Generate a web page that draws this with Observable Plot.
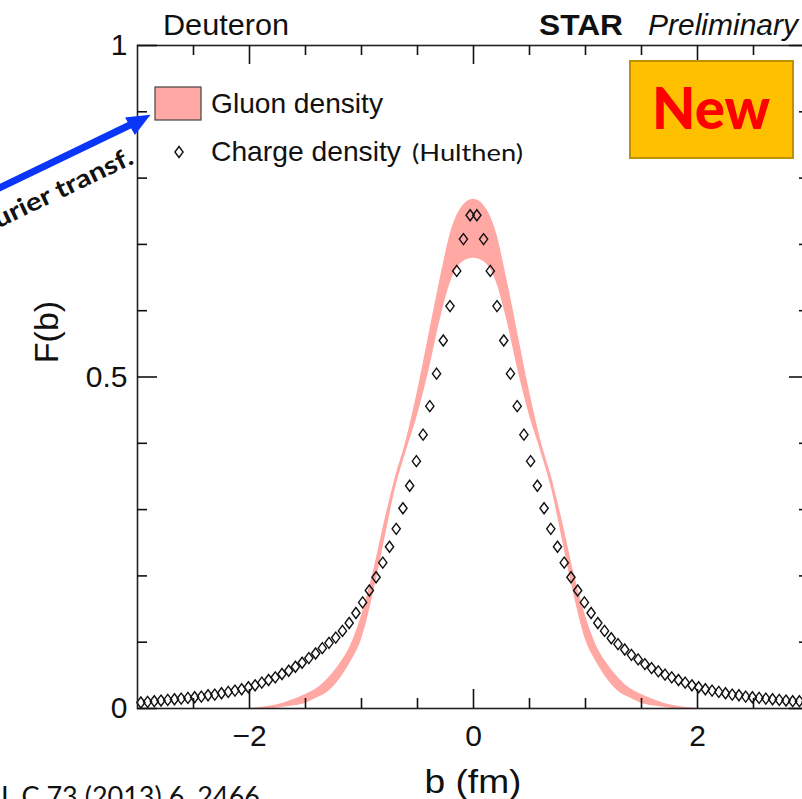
<!DOCTYPE html>
<html>
<head>
<meta charset="utf-8">
<script src="https://cdn.jsdelivr.net/npm/d3@7"></script>
<script src="https://cdn.jsdelivr.net/npm/@observablehq/plot@0.6"></script>
<style>
  html, body { margin: 0; padding: 0; background: white; }
  #wrap { width: 802px; height: 799px; overflow: hidden; position: relative; }
</style>
</head>
<body>
<div id="wrap"></div>
<script>
// ---- Charge density (Hulthen) points ----
const chargeB = [
  -2.97, -2.91, -2.85, -2.79, -2.73, -2.67, -2.61, -2.55, -2.49, -2.43,
  -2.37, -2.31, -2.25, -2.19, -2.13, -2.07, -2.01, -1.95, -1.89, -1.83,
  -1.77, -1.71, -1.65, -1.59, -1.53, -1.47, -1.41, -1.35, -1.29, -1.23,
  -1.17, -1.11, -1.05, -0.99, -0.93, -0.87, -0.81, -0.75, -0.69, -0.63,
  -0.57, -0.51, -0.45, -0.39, -0.33, -0.27, -0.21, -0.15, -0.09, -0.03,
  0.03, 0.09, 0.15, 0.21, 0.27, 0.33, 0.39, 0.45, 0.51, 0.57,
  0.63, 0.69, 0.75, 0.81, 0.87, 0.93, 0.99, 1.05, 1.11, 1.17,
  1.23, 1.29, 1.35, 1.41, 1.47, 1.53, 1.59, 1.65, 1.71, 1.77,
  1.83, 1.89, 1.95, 2.01, 2.07, 2.13, 2.19, 2.25, 2.31, 2.37,
  2.43, 2.49, 2.55, 2.61, 2.67, 2.73, 2.79, 2.85, 2.91, 2.97
];
const chargeF = [
  0.009, 0.010, 0.011, 0.012, 0.013, 0.014, 0.015, 0.016, 0.017, 0.018,
  0.020, 0.021, 0.023, 0.025, 0.027, 0.029, 0.032, 0.035, 0.039, 0.043,
  0.047, 0.052, 0.057, 0.063, 0.069, 0.076, 0.083, 0.091, 0.099, 0.107,
  0.117, 0.129, 0.144, 0.160, 0.178, 0.198, 0.220, 0.244, 0.271, 0.302,
  0.336, 0.373, 0.413, 0.456, 0.505, 0.555, 0.607, 0.660, 0.708, 0.744,
  0.744, 0.708, 0.660, 0.607, 0.555, 0.505, 0.456, 0.413, 0.373, 0.336,
  0.302, 0.271, 0.244, 0.220, 0.198, 0.178, 0.160, 0.144, 0.129, 0.117,
  0.106, 0.097, 0.089, 0.081, 0.074, 0.067, 0.061, 0.056, 0.051, 0.047,
  0.043, 0.039, 0.035, 0.032, 0.029, 0.027, 0.025, 0.023, 0.021, 0.020,
  0.018, 0.017, 0.016, 0.015, 0.014, 0.013, 0.012, 0.011, 0.011, 0.010
];

// ---- Gluon density band ----
const bandB = [
  -2.0, -1.9, -1.8, -1.7, -1.6, -1.5, -1.4, -1.3, -1.2, -1.1, -1.0,
  -0.9, -0.8, -0.7, -0.6, -0.5, -0.4, -0.3, -0.2, -0.1, 0.0,
  0.1, 0.2, 0.3, 0.4, 0.5, 0.6, 0.7, 0.8, 0.9, 1.0,
  1.1, 1.2, 1.3, 1.4, 1.5, 1.6, 1.7, 1.8, 1.9, 2.0
];
const bandLo = [
  0.0, 0.0, 0.0, 0.002, 0.004, 0.008, 0.016, 0.025, 0.043, 0.069, 0.104,
  0.169, 0.249, 0.329, 0.388, 0.442, 0.508, 0.584, 0.645, 0.673, 0.679,
  0.673, 0.645, 0.584, 0.508, 0.442, 0.388, 0.329, 0.249, 0.169, 0.104,
  0.069, 0.043, 0.025, 0.016, 0.008, 0.004, 0.002, 0.0, 0.0, 0.0
];
const bandHi = [
  0.0, 0.0015, 0.004, 0.008, 0.014, 0.021, 0.030, 0.045, 0.066, 0.094, 0.140,
  0.202, 0.278, 0.347, 0.405, 0.478, 0.562, 0.646, 0.720, 0.757, 0.768,
  0.757, 0.720, 0.646, 0.562, 0.478, 0.405, 0.347, 0.278, 0.202, 0.140,
  0.094, 0.066, 0.045, 0.030, 0.021, 0.014, 0.008, 0.004, 0.0015, 0.0
];

// ---- Axis ticks ----
const xMajor = [-2, 0, 2];
const xMinor = [-2.5, -1.5, -1, -0.5, 0.5, 1, 1.5, 2.5];
const yMajor = [0, 0.5, 1];
const yMinor = [0.1, 0.2, 0.3, 0.4, 0.6, 0.7, 0.8, 0.9];

const charge = chargeB.map((b, i) => ({b, f: chargeF[i]}));
const band = bandB.map((b, i) => ({b, lo: bandLo[i], hi: bandHi[i]}));

const diamond = {
  draw(ctx, size) {
    const h = Math.sqrt(size / Math.PI);
    const w = h * 0.75;
    ctx.moveTo(0, -h); ctx.lineTo(w, 0); ctx.lineTo(0, h); ctx.lineTo(-w, 0); ctx.closePath();
  }
};

const W = 812, H = 799, mL = 137, mR = 3, mT = 45, mB = 91;
const plotW = W - mL - mR, plotH = H - mT - mB;
const tk = {stroke: "#111", strokeWidth: 1.6};
const font = "'Liberation Sans', Arial, Helvetica, sans-serif";

const chart = Plot.plot({
  width: W, height: H,
  marginLeft: mL, marginRight: mR, marginTop: mT, marginBottom: mB,
  style: {maxWidth: "none", fontFamily: font, background: "white", color: "#111"},
  x: {domain: [-3, 3], label: null},
  y: {domain: [0, 1], label: null},
  marks: [
    Plot.areaY(band, {x: "b", y1: "lo", y2: "hi", fill: "#FFA8A4", curve: "monotone-x"}),
    Plot.dot(charge, {x: "b", y: "f", symbol: diamond, r: 5.5, stroke: "#111", strokeWidth: 1.4, fill: "none"}),
    Plot.frame({stroke: "#222", strokeWidth: 1.6}),
    // inward ticks on all four sides
    Plot.ruleX(xMajor, {...tk, insetTop: plotH - 19}),
    Plot.ruleX(xMinor, {...tk, insetTop: plotH - 10}),
    Plot.ruleX(xMajor, {...tk, insetBottom: plotH - 19}),
    Plot.ruleX(xMinor, {...tk, insetBottom: plotH - 10}),
    Plot.ruleY(yMajor, {...tk, insetRight: plotW - 20}),
    Plot.ruleY(yMinor, {...tk, insetRight: plotW - 10}),
    Plot.ruleY(yMajor, {...tk, insetLeft: plotW - 20}),
    Plot.ruleY(yMinor, {...tk, insetLeft: plotW - 10}),
    // tick labels
    Plot.axisX(xMajor, {anchor: "bottom", tickSize: 0, tickPadding: 16, fontSize: 30, label: null, fill: "#111"}),
    Plot.axisY(yMajor, {anchor: "left", tickSize: 0, tickPadding: 10, fontSize: 30, label: null, fill: "#111",
      tickFormat: d => String(d)})
  ]
});

document.getElementById("wrap").appendChild(chart);

// ---- Annotations ----
const svg = d3.select(chart);
const sx = chart.scale("x");
const g = svg.append("g");

function txt(x, y, s, opts = {}) {
  const t = g.append("text").attr("x", x).attr("y", y).text(s)
    .attr("font-family", opts.family || font)
    .attr("font-size", opts.size || 29)
    .attr("fill", opts.fill || "#111")
    .attr("text-anchor", opts.anchor || "start");
  if (opts.weight) t.attr("font-weight", opts.weight);
  if (opts.style) t.attr("font-style", opts.style);
  if (opts.len) t.attr("textLength", opts.len).attr("lengthAdjust", "spacingAndGlyphs");
  if (opts.transform) t.attr("transform", opts.transform);
  return t;
}

// header
txt(163, 35, "Deuteron", {size: 29, len: 126});
txt(539, 35, "STAR", {size: 29, weight: "bold", len: 84});
txt(648, 35, "Preliminary", {size: 29, style: "italic", len: 150});

// axis titles
txt(sx.apply(0), 793, "b (fm)", {size: 34, anchor: "middle", len: 97});
txt(0, 0, "F(b)", {size: 34, anchor: "middle", transform: "translate(58,332) rotate(-90)"});

// legend
g.append("rect").attr("x", 155).attr("y", 87).attr("width", 46).attr("height", 33)
  .attr("fill", "#FFA8A4").attr("stroke", "#444").attr("stroke-width", 1.2);
txt(211, 113, "Gluon density", {size: 28, len: 172});
g.append("path").attr("transform", "translate(179,152)")
  .attr("d", "M0,-5.5L4.1,0L0,5.5L-4.1,0Z").attr("fill", "none").attr("stroke", "#111").attr("stroke-width", 1.4);
txt(211, 161, "Charge density", {size: 28, len: 190});
txt(412, 161, "(Hulthen)", {size: 24, family: "Lato, 'Open Sans', sans-serif", len: 111});

// "New" box
g.append("rect").attr("x", 630).attr("y", 61).attr("width", 163).attr("height", 97)
  .attr("fill", "#FFC000").attr("stroke", "#BF9000").attr("stroke-width", 2);
txt(711, 129, "New", {size: 57, weight: "900", fill: "#FF0000", anchor: "middle", family: "Lato, 'Open Sans', sans-serif", len: 118});

// blue arrow
g.append("line").attr("x1", -5).attr("y1", 190).attr("x2", 132).attr("y2", 124)
  .attr("stroke", "#0A36F7").attr("stroke-width", 7);
g.append("path").attr("d", "M126.7,118.3L148.3,116L135,133.3Z").attr("fill", "#0A36F7").attr("stroke", "#0A36F7").attr("stroke-width", 2);
txt(0, 0, "Fourier transf.", {size: 25, weight: "bold", anchor: "end", family: "Lato, 'Open Sans', sans-serif", len: 184,
  transform: "translate(135,163) rotate(-25.6)"});

// citation
txt(260, 806, "Eur. Phys. J. C 73 (2013) 6, 2466", {size: 27, anchor: "end", family: "Lato, 'Open Sans', sans-serif", fill: "#111"});
</script>
</body>
</html>
